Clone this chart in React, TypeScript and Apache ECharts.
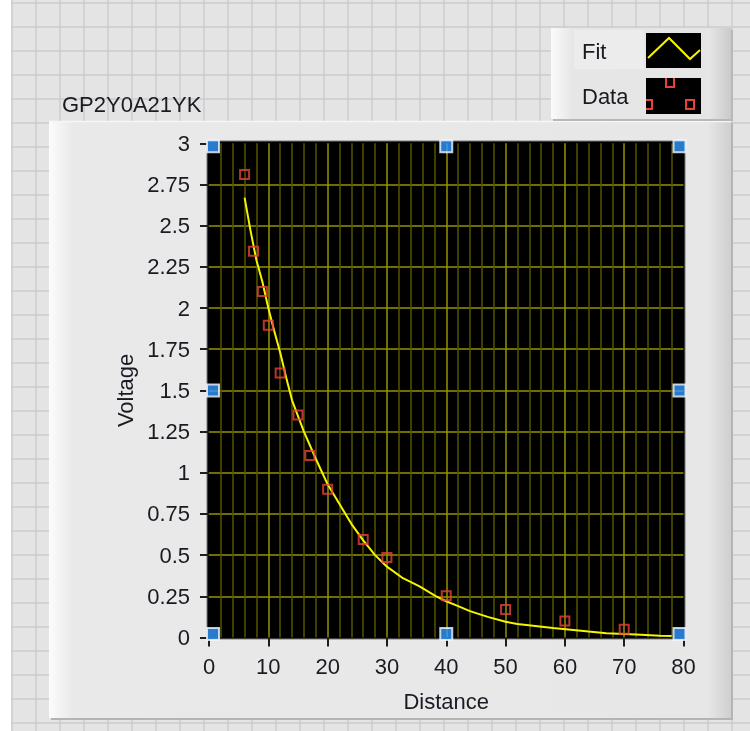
import React, { useEffect, useRef } from "react";
import * as echarts from "echarts";

// Measured data (Data plot, red squares)
const distance = [6, 7.5, 9, 10, 12, 15, 17, 20, 26, 30, 40, 50, 60, 70];
const voltage = [2.81, 2.345, 2.1, 1.895, 1.605, 1.35, 1.105, 0.9, 0.595, 0.485, 0.254, 0.17, 0.1, 0.05];

// Fit curve (yellow line)
const fitDistance = [6, 7, 8, 9, 10, 11, 12, 13, 14, 16, 18, 20, 22, 24, 26, 28, 30, 32.7, 35.5, 38.3, 40, 42, 44, 47, 50, 52, 55, 58, 61, 64, 67, 72, 76, 78];
const fitVoltage = [2.67, 2.47, 2.29, 2.16, 2.0, 1.86, 1.73, 1.58, 1.44, 1.25, 1.085, 0.93, 0.81, 0.69, 0.59, 0.5, 0.43, 0.36, 0.31, 0.25, 0.22, 0.19, 0.16, 0.125, 0.096, 0.082, 0.07, 0.058, 0.047, 0.036, 0.026, 0.018, 0.011, 0.009];

// Cursor handles (blue squares)
const cursorX = [0, 40, 80, 0, 80, 0, 40, 80];
const cursorY = [3, 3, 3, 1.5, 1.5, 0, 0, 0];

// Axis settings
const xMin = 0, xMax = 80, xStep = 10;
const yMin = 0, yMax = 3, yStep = 0.25;

const titleText = "GP2Y0A21YK";
const legendNames = ["Fit", "Data"];
const xName = "Distance";
const yName = "Voltage";

const FONT = "'Liberation Sans', Arial, sans-serif";
const TXT = "#1a1a22";
const RED = "#e8413b";
const YEL = "#f5f500";

export default function App() {
  const ref = useRef<HTMLDivElement>(null);
  useEffect(() => {
    const chart = echarts.init(ref.current!, null, { renderer: "svg" });

    const bg: any[] = [
      { type: "rect", z: -20, shape: { x: 0, y: 0, width: 750, height: 731 }, style: { fill: "#ffffff" } },
      { type: "rect", z: -20, shape: { x: 11, y: 0, width: 739, height: 731 }, style: { fill: "#e4e4e4" } },
    ];
    for (let x = 12; x <= 750; x += 24) {
      bg.push({ type: "line", z: -19, shape: { x1: x, y1: 0, x2: x, y2: 731 }, style: { stroke: "#cdcdcd", lineWidth: 1.6 } });
    }
    for (let y = 3; y <= 731; y += 24) {
      bg.push({ type: "line", z: -19, shape: { x1: 11, y1: y, x2: 750, y2: y }, style: { stroke: "#cdcdcd", lineWidth: 1.6 } });
    }

    const panel: any[] = [
      { type: "rect", z: -15, shape: { x: 51, y: 123, width: 682, height: 597 }, style: { fill: "#b4b4b4" } },
      {
        type: "rect", z: -14, shape: { x: 49, y: 121, width: 682, height: 597 },
        style: {
          fill: {
            type: "linear", x: 0, y: 0, x2: 1, y2: 0,
            colorStops: [
              { offset: 0, color: "#fcfcfc" },
              { offset: 0.035, color: "#e9e9e9" },
              { offset: 0.965, color: "#e7e7e7" },
              { offset: 1, color: "#cfcfcf" },
            ],
          },
        },
      },
      { type: "line", z: -13, shape: { x1: 49, y1: 121.5, x2: 731, y2: 121.5 }, style: { stroke: "#f6f6f6", lineWidth: 1.5 } },
      { type: "rect", z: -12, shape: { x: 207, y: 141, width: 478, height: 498 }, style: { fill: "#000000", stroke: "#7a7a7a", lineWidth: 1 } },
      {
        type: "text", z: 5, x: 62, y: 104,
        style: { text: titleText, fontSize: 22, fontFamily: FONT, fill: TXT, verticalAlign: "middle", align: "left" },
      },
    ];

    const legend: any[] = [
      { type: "rect", z: 5, shape: { x: 553, y: 30, width: 180, height: 91 }, style: { fill: "#b8b8b8" } },
      {
        type: "rect", z: 6, shape: { x: 551, y: 28, width: 180, height: 91 },
        style: {
          fill: {
            type: "linear", x: 0, y: 0, x2: 1, y2: 0,
            colorStops: [
              { offset: 0, color: "#fbfbfb" },
              { offset: 0.12, color: "#e6e6e6" },
              { offset: 0.88, color: "#e5e5e5" },
              { offset: 1, color: "#cacaca" },
            ],
          },
        },
      },
      { type: "rect", z: 7, shape: { x: 574, y: 30, width: 70, height: 39 }, style: { fill: "#ececec" } },
      { type: "text", z: 8, x: 582, y: 51, style: { text: legendNames[0], fontSize: 22, fontFamily: FONT, fill: TXT, verticalAlign: "middle" } },
      { type: "text", z: 8, x: 582, y: 96, style: { text: legendNames[1], fontSize: 22, fontFamily: FONT, fill: TXT, verticalAlign: "middle" } },
      { type: "rect", z: 8, shape: { x: 646, y: 33, width: 55, height: 35 }, style: { fill: "#000" } },
      { type: "rect", z: 8, shape: { x: 646, y: 78, width: 55, height: 36 }, style: { fill: "#000" } },
      { type: "polyline", z: 9, shape: { points: [[648, 58], [669, 38], [690, 59], [700, 50]] }, style: { stroke: YEL, lineWidth: 2, fill: null } },
      { type: "polyline", z: 9, shape: { points: [[666, 78], [666, 87], [674, 87], [674, 78]] }, style: { stroke: RED, lineWidth: 2, fill: null } },
      { type: "polyline", z: 9, shape: { points: [[646, 100], [652, 100], [652, 109], [646, 109]] }, style: { stroke: RED, lineWidth: 2, fill: null } },
      { type: "rect", z: 9, shape: { x: 686, y: 100, width: 8, height: 9 }, style: { stroke: RED, lineWidth: 2, fill: null } },
    ];

    const axisCommon = {
      type: "value",
      offset: 4,
      axisLine: { show: false },
      axisTick: { show: true, length: 9, lineStyle: { color: "#1e1e1e", width: 2 } },
      nameLocation: "middle",
      nameTextStyle: { fontSize: 22, color: TXT, fontFamily: FONT },
    };

    const option: any = {
      animation: false,
      backgroundColor: "transparent",
      graphic: { elements: [...bg, ...panel, ...legend] },
      grid: { left: 209, top: 143.3, width: 474.5, height: 494.2, containLabel: false, outerBoundsMode: "none" },
      xAxis: {
        ...axisCommon,
        min: xMin, max: xMax, interval: xStep,
        axisLabel: { fontSize: 22, color: TXT, margin: 14, fontFamily: FONT },
        splitLine: { show: true, showMinLine: false, showMaxLine: false, lineStyle: { color: "#959500", width: 1.5 } },
        minorTick: { show: false, splitNumber: 5 },
        minorSplitLine: { show: true, lineStyle: { color: "#555500", width: 1.5 } },
        name: xName, nameGap: 49,
      },
      yAxis: {
        ...axisCommon,
        min: yMin, max: yMax, interval: yStep,
        axisLabel: { fontSize: 22, color: TXT, margin: 15, fontFamily: FONT },
        splitLine: { show: true, showMinLine: false, showMaxLine: false, lineStyle: { color: "#959500", width: 1.5 } },
        name: yName, nameGap: 67, nameRotate: 90,
      },
      series: [
        {
          name: legendNames[0],
          type: "line",
          data: fitDistance.map((x, i) => [x, fitVoltage[i]]),
          symbol: "none",
          lineStyle: { color: YEL, width: 2 },
          z: 3,
        },
        {
          name: legendNames[1],
          type: "scatter",
          data: distance.map((x, i) => [x, voltage[i]]),
          symbol: "rect",
          symbolSize: 9,
          itemStyle: { color: "rgba(0,0,0,0)", borderColor: RED, borderWidth: 2 },
          z: 4,
        },
        {
          type: "scatter",
          clip: false,
          data: cursorX.map((x, i) => {
            const y = cursorY[i];
            const ox = x === xMin ? 4 : x === xMax ? -4 : 0;
            const oy = y === yMax ? 3 : y === yMin ? -3.5 : 0;
            return { value: [x, y], symbolOffset: [ox, oy] };
          }),
          symbol: "rect",
          symbolSize: 12,
          itemStyle: { color: "#3399ff", borderColor: "#f2f7ff", borderWidth: 2 },
          z: 6,
        },
      ],
    };
    chart.setOption(option);
    return () => chart.dispose();
  }, []);
  return <div ref={ref} style={{ position: "fixed", left: 0, top: 0, width: 750, height: 731 }} />;
}
